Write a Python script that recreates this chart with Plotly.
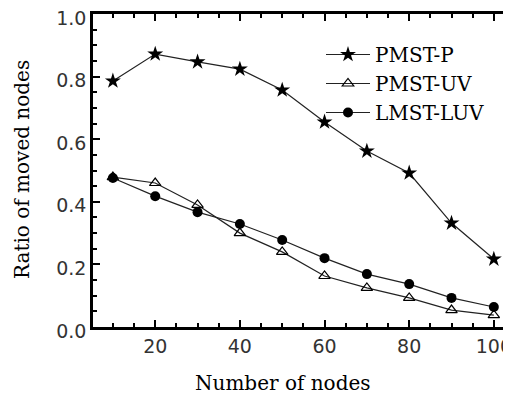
import plotly.graph_objects as go

nodes = [10, 20, 30, 40, 50, 60, 70, 80, 90, 100]
pmst_p = [0.786, 0.872, 0.847, 0.824, 0.757, 0.655, 0.562, 0.492, 0.332, 0.217]
pmst_uv = [0.479, 0.460, 0.390, 0.300, 0.240, 0.163, 0.125, 0.093, 0.054, 0.038]
lmst_luv = [0.476, 0.418, 0.367, 0.329, 0.278, 0.220, 0.169, 0.137, 0.093, 0.064]

x_ticks = [20, 40, 60, 80, 100]
y_ticks = [0.0, 0.2, 0.4, 0.6, 0.8, 1.0]
y_tick_labels = ["0.0", "0.2", "0.4", "0.6", "0.8", "1.0"]

# the page body has an 8px default margin; the figure is sized to fill the rest
OFF = 8
W, H = 511 - OFF, 406 - OFF
# plot area in page pixels: x 93..504, y 14..327
L, R, T, B = 93 - OFF, 511 - 504, 14 - OFF, 406 - 327
PW, PH = W - L - R, H - T - B


def px_x(page_x):
    return (page_x - OFF - L) / PW


def px_y(page_y):
    return (H - B - (page_y - OFF)) / PH


fig = go.Figure()
fig.add_trace(go.Scatter(x=nodes, y=pmst_p, name="PMST-P", mode="lines+markers",
                         line=dict(color="#222", width=1.2),
                         marker=dict(symbol="star", size=12, color="black")))
fig.add_trace(go.Scatter(x=nodes, y=pmst_uv, name="PMST-UV", mode="lines+markers",
                         line=dict(color="#222", width=1.2),
                         marker=dict(symbol="triangle-up-open", size=10, color="black",
                                     line=dict(width=1.2, color="black"))))
fig.add_trace(go.Scatter(x=nodes, y=lmst_luv, name="LMST-LUV", mode="lines+markers",
                         line=dict(color="#222", width=1.2),
                         marker=dict(symbol="circle", size=10, color="black")))

fig.update_layout(
    template="none",
    width=W, height=H,
    margin=dict(l=L, r=R, t=T, b=B, autoexpand=False),
    paper_bgcolor="white", plot_bgcolor="white",
    showlegend=True,
    legend=dict(x=px_x(321), y=px_y(35), xanchor="left", yanchor="top",
                font=dict(family="DejaVu Serif", size=20, color="black"),
                bgcolor="rgba(0,0,0,0)", borderwidth=0, tracegroupgap=0, itemwidth=44),
    font=dict(family="DejaVu Sans", size=20, color="#333"),
)
fig.update_xaxes(range=[5.3, 102.4], tickmode="array", tickvals=x_ticks,
                 ticks="inside", ticklen=7, tickwidth=1.5, tickcolor="black",
                 showline=True, linecolor="black", linewidth=2.5, mirror="ticks",
                 showgrid=False, zeroline=False, automargin=False,
                 ticklabeloverflow="allow",
                 minor=dict(dtick=5, ticks="inside", ticklen=4, tickcolor="black", tickwidth=1.5),
                 tickfont=dict(family="DejaVu Sans", size=19, color="#333"))
fig.update_yaxes(range=[0, 1.0], tickmode="array", tickvals=y_ticks, ticktext=y_tick_labels,
                 ticks="inside", ticklen=7, tickwidth=1.5, tickcolor="black",
                 showline=True, linecolor="black", linewidth=2.5,
                 showgrid=False, zeroline=False, automargin=False,
                 ticklabeloverflow="allow", ticklabelshift=4,
                 minor=dict(dtick=0.05, ticks="inside", ticklen=4, tickcolor="black", tickwidth=1.5),
                 tickfont=dict(family="DejaVu Sans", size=19, color="#333"))

fig.add_annotation(text="Number of nodes", xref="paper", yref="paper",
                   x=px_x(283), y=px_y(383), showarrow=False,
                   xanchor="center", yanchor="middle",
                   font=dict(family="DejaVu Serif", size=20, color="black"))
fig.add_annotation(text="Ratio of moved nodes", xref="paper", yref="paper",
                   x=px_x(22), y=px_y(170), showarrow=False,
                   xanchor="center", yanchor="middle", textangle=-90,
                   font=dict(family="DejaVu Serif", size=20, color="black"))

fig.write_html("out.html")
